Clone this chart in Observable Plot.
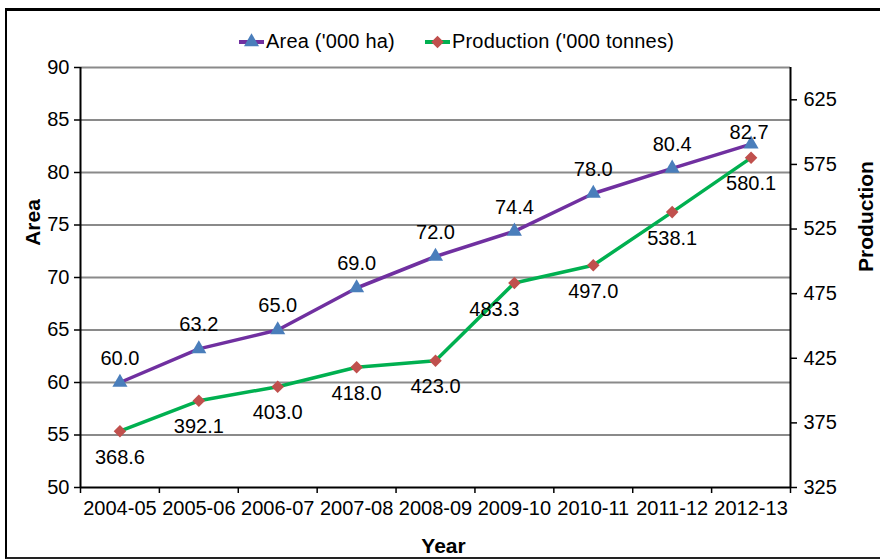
<!DOCTYPE html>
<html>
<head>
<meta charset="utf-8">
<script src="https://cdn.jsdelivr.net/npm/d3@7"></script>
<script src="https://cdn.jsdelivr.net/npm/@observablehq/plot@0.6"></script>
<style>
  html, body { margin: 0; padding: 0; background: #fff; }
  #wrap { position: relative; width: 880px; height: 559px; overflow: hidden; background: #fff; color: #000;
          font-family: "Liberation Sans", Arial, sans-serif; }
  #border { position: absolute; left: 5px; top: 8px; width: 900px; height: 546px;
            border-top: 3px solid #000; border-left: 2px solid #000; border-bottom: 2px solid #222; }
  #chart { position: absolute; left: 0; top: 0; }
  #legend { position: absolute; left: 239px; top: 30px; display: flex; align-items: center; font-size: 20px;
            letter-spacing: 0.2px; white-space: nowrap; }
  #legend .item { display: flex; align-items: center; }
  #legend svg { display: block; margin-right: 2px; }
</style>
</head>
<body>
<div id="wrap">
  <div id="border"></div>
  <div id="chart"></div>
  <div id="legend"></div>
</div>
<script>
// Area under cultivation and production, by year
const years = ["2004-05", "2005-06", "2006-07", "2007-08", "2008-09", "2009-10", "2010-11", "2011-12", "2012-13"];
const area = [60.0, 63.2, 65.0, 69.0, 72.0, 74.4, 78.0, 80.4, 82.7];
const production = [368.6, 392.1, 403.0, 418.0, 423.0, 483.3, 497.0, 538.1, 580.1];
const areaTicks = [50, 55, 60, 65, 70, 75, 80, 85, 90];
const productionTicks = [325, 375, 425, 475, 525, 575, 625];
const areaDomain = [50, 90];
const productionDomain = [325, 650];

const purple = "#7030a0", green = "#00b050", blue = "#4a7ebb", red = "#c0504d";
const fmt = d3.format(".1f");

// The production axis (right) is mapped linearly onto the area scale (left)
const toArea = p => areaDomain[0] + (p - productionDomain[0]) * (areaDomain[1] - areaDomain[0]) / (productionDomain[1] - productionDomain[0]);
const fromArea = a => productionDomain[0] + (a - areaDomain[0]) * (productionDomain[1] - productionDomain[0]) / (areaDomain[1] - areaDomain[0]);

const areaRows = years.map((y, i) => ({i, v: area[i]}));
const prodRows = years.map((y, i) => ({i, p: production[i], v: toArea(production[i])}));

const chart = Plot.plot({
  width: 880,
  height: 559,
  marginLeft: 80,
  marginRight: 90,
  marginTop: 67,
  marginBottom: 72,
  style: {fontFamily: "Liberation Sans, Arial, sans-serif", fontSize: "20px", color: "#000", background: "transparent", overflow: "visible"},
  x: {type: "linear", domain: [-0.5, years.length - 0.5], label: null},
  y: {domain: areaDomain, label: null},
  marks: [
    // horizontal gridlines
    Plot.ruleY(areaTicks.filter(t => t > areaDomain[0]), {stroke: "#8a8a8a", strokeWidth: 2}),
    // axis lines
    Plot.ruleX([-0.5, years.length - 0.5], {stroke: "#000", strokeWidth: 2}),
    Plot.ruleY([areaDomain[0]], {stroke: "#000", strokeWidth: 2}),
    // left axis
    Plot.axisY({anchor: "left", ticks: areaTicks, tickSize: 6, tickPadding: 5, label: null, strokeWidth: 1.5}),
    // right axis (production values)
    Plot.axisY({anchor: "right", ticks: productionTicks.map(toArea), tickFormat: d => String(Math.round(fromArea(d))),
                tickSize: 6, tickPadding: 7, label: null, strokeWidth: 1.5}),
    // bottom axis: labels at category centers, ticks at boundaries
    Plot.axisX({ticks: d3.range(years.length), tickFormat: i => years[i], tickSize: 0, tickPadding: 13, label: null}),
    Plot.axisX({ticks: d3.range(years.length + 1).map(i => i - 0.5), tickFormat: () => "", tickSize: 6, label: null, strokeWidth: 1.5}),
    // series
    Plot.line(areaRows, {x: "i", y: "v", stroke: purple, strokeWidth: 3.5}),
    Plot.line(prodRows, {x: "i", y: "v", stroke: green, strokeWidth: 3.5}),
    Plot.dot(areaRows, {x: "i", y: "v", symbol: "triangle", r: 5.6, fill: blue}),
    Plot.dot(prodRows, {x: "i", y: "v", symbol: "square", rotate: 45, r: 5, fill: red}),
    // value labels
    Plot.text(areaRows, {filter: d => d.i < 8, x: "i", y: "v", text: d => fmt(d.v), dy: -24, fill: "#000"}),
    Plot.text(areaRows, {filter: d => d.i === 8, x: "i", y: "v", text: d => fmt(d.v), dy: -12, dx: -2, fill: "#000"}),
    Plot.text(prodRows, {filter: d => d.i !== 5, x: "i", y: "v", text: d => fmt(d.p), dy: 26, fill: "#000"}),
    Plot.text(prodRows, {filter: d => d.i === 5, x: "i", y: "v", text: d => fmt(d.p), dy: 27, dx: -20, fill: "#000"}),
    // axis titles
    Plot.text(["Area"], {text: d => d, frameAnchor: "left", textAnchor: "middle", rotate: -90, dx: -47, dy: -55, fontSize: 21, fontWeight: "bold", fill: "#000"}),
    Plot.text(["Production"], {text: d => d, frameAnchor: "right", textAnchor: "middle", rotate: -90, dx: 76, dy: -61, fontSize: 21, fontWeight: "bold", fill: "#000"}),
    Plot.text(["Year"], {text: d => d, frameAnchor: "bottom", textAnchor: "middle", dx: 8, dy: 65, fontSize: 21, fontWeight: "bold", fill: "#000"})
  ]
});
document.getElementById("chart").appendChild(chart);

// Legend
const legend = d3.select("#legend");
const items = [
  {label: "Area ('000 ha)", line: purple, marker: blue, symbol: d3.symbolTriangle, size: 5.6, rotate: 0, gap: 0},
  {label: "Production ('000 tonnes)", line: green, marker: red, symbol: d3.symbolSquare, size: 5, rotate: 45, gap: 30}
];
items.forEach(it => {
  const item = legend.append("div").attr("class", "item").style("margin-left", it.gap + "px");
  const svg = item.append("svg").attr("width", 25).attr("height", 18);
  svg.append("line").attr("x1", 0).attr("x2", 25).attr("y1", 9).attr("y2", 9).attr("stroke", it.line).attr("stroke-width", 4);
  svg.append("path").attr("d", d3.symbol(it.symbol, Math.PI * it.size * it.size)())
     .attr("transform", `translate(12.5,9) rotate(${it.rotate})`).attr("fill", it.marker);
  item.append("span").text(it.label);
});
</script>
</body>
</html>
